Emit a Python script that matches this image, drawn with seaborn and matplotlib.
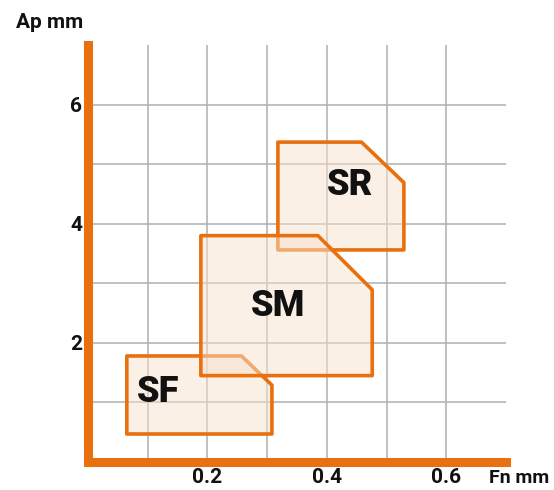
import matplotlib
matplotlib.use("Agg")
import matplotlib.pyplot as plt
import seaborn as sns

# insert grade working ranges (feed Fn mm, depth Ap mm)
sf_fn = [0.065, 0.308, 0.308, 0.257, 0.065]
sf_ap = [0.47, 0.47, 1.29, 1.78, 1.78]
sm_fn = [0.189, 0.476, 0.476, 0.385, 0.189]
sm_ap = [1.45, 1.45, 2.89, 3.80, 3.80]
sr_fn = [0.318, 0.529, 0.529, 0.458, 0.318]
sr_ap = [3.56, 3.56, 4.69, 5.37, 5.37]

grade_names = ["SF", "SR", "SM"]
label_fn = [0.117, 0.439, 0.318]
label_ap = [1.18, 4.65, 2.62]

x_ticks = [0.1, 0.2, 0.3, 0.4, 0.5, 0.6]
x_labels = ["", "0.2", "", "0.4", "", "0.6"]
y_ticks = [1, 2, 3, 4, 5, 6]
y_labels = ["", "2", "", "4", "", "6"]

ORANGE = "#E8700F"
FACE = "#F9E2CE"


def main():
    sns.set_theme(style="white")
    plt.rcParams["font.family"] = ["Roboto", "DejaVu Sans"]

    fig = plt.figure(figsize=(5.54, 4.9), dpi=100)
    ax = fig.add_axes([88 / 554, 28 / 490, 418 / 554, 417 / 490])

    ax.set_xlim(0, 0.7)
    ax.set_ylim(0, 7)
    ax.set_xticks(x_ticks)
    ax.set_xticklabels(x_labels)
    ax.set_yticks(y_ticks)
    ax.set_yticklabels(y_labels)
    ax.tick_params(length=0, labelsize=15, pad=4, labelcolor="#111111")
    for lab in ax.get_xticklabels() + ax.get_yticklabels():
        lab.set_fontweight("bold")
    ax.grid(True, color="#AFAFAF", linewidth=1.1)
    ax.set_axisbelow(True)

    # SM goes on top so that it fades the edges of the other two
    shapes = [(sf_fn, sf_ap), (sr_fn, sr_ap), (sm_fn, sm_ap)]
    for z, (fx, fy) in enumerate(shapes):
        ax.fill(fx, fy, facecolor="none", edgecolor=ORANGE, linewidth=2.6,
                joinstyle="round", zorder=3 + 2 * z)
        ax.fill(fx, fy, facecolor=FACE, edgecolor="none", alpha=0.5,
                zorder=2 + 2 * z)
    for name, lx, ly in zip(grade_names, label_fn, label_ap):
        ax.text(lx, ly, name, fontsize=26, fontweight="black", color="#111111",
                ha="center", va="center", zorder=10)

    sns.despine(ax=ax)
    for side in ["left", "bottom"]:
        ax.spines[side].set_color(ORANGE)
        ax.spines[side].set_linewidth(6.5)
        ax.spines[side].set_capstyle("projecting")
        ax.spines[side].set_zorder(12)

    fig.text(50 / 554, 1 - 22 / 490, "Ap mm", fontsize=15, fontweight="bold",
             ha="center", va="center", color="#111111")
    fig.text(519 / 554, 1 - 478 / 490, "Fn mm", fontsize=14, fontweight="bold",
             ha="center", va="center", color="#111111")

    fig.savefig("out.png", dpi=100)


if __name__ == "__main__":
    main()
